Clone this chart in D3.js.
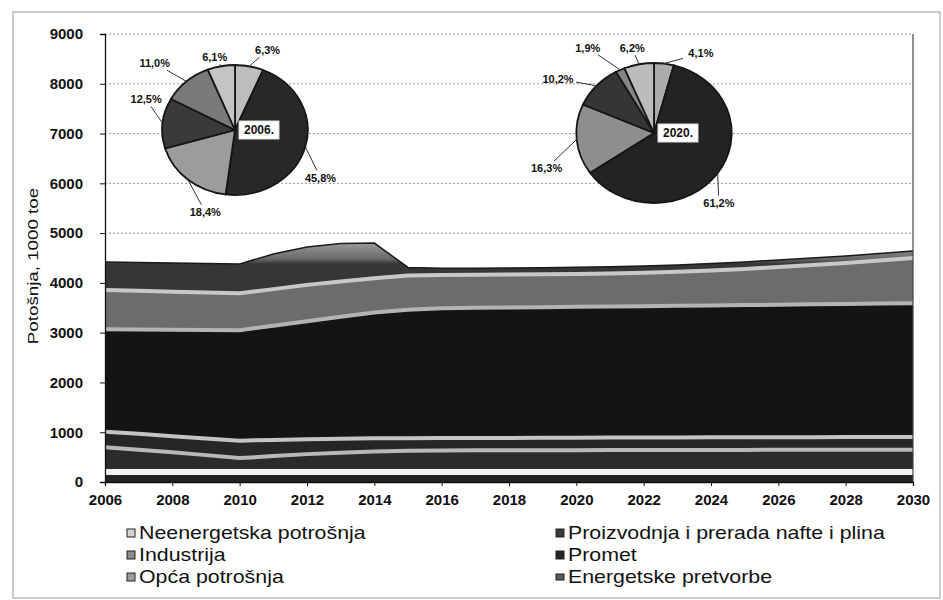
<!DOCTYPE html>
<html>
<head>
<meta charset="utf-8">
<script src="https://cdn.jsdelivr.net/npm/d3@7"></script>
<style>
  body { margin: 0; background: #fff; }
  text { font-family: "Liberation Sans", Arial, sans-serif; }
</style>
</head>
<body>
<div id="chart"></div>
<script>
// categories
const years = [2006, 2007, 2008, 2009, 2010, 2011, 2012, 2013, 2014, 2015, 2016, 2017, 2018,
  2019, 2020, 2021, 2022, 2023, 2024, 2025, 2026, 2027, 2028, 2029, 2030];
const seriesNames = ["Neenergetska potrošnja", "Proizvodnja i prerada nafte i plina", "Industrija",
  "Promet", "Opća potrošnja", "Energetske pretvorbe"];

// series values, 1000 toe
const neenergetska = [200, 200, 200, 200, 200, 200, 200, 200, 200, 200, 200, 200, 200,
  200, 200, 200, 200, 200, 200, 200, 200, 200, 200, 200, 200];
const proizvodnja = [500, 450, 400, 340, 280, 320, 360, 390, 415, 430, 435, 438, 440,
  440, 440, 441, 442, 443, 444, 445, 446, 447, 448, 449, 450];
const industrija = [310, 320, 320, 335, 350, 325, 300, 280, 263, 250, 247, 246, 246,
  248, 250, 251, 252, 253, 254, 254, 254, 254, 254, 254, 255];
const promet = [2057, 2093, 2138, 2179, 2220, 2295, 2370, 2450, 2527, 2580, 2608, 2616, 2619,
  2622, 2630, 2633, 2636, 2644, 2647, 2656, 2660, 2669, 2673, 2682, 2685];
const opca = [790, 777, 762, 751, 740, 735, 730, 710, 690, 690, 670, 665, 665,
  665, 660, 665, 675, 685, 705, 725, 760, 790, 825, 865, 910];
const energetske = [563, 570, 580, 585, 590, 705, 760, 760, 705, 160, 135, 130, 130,
  130, 135, 135, 135, 135, 140, 140, 140, 140, 140, 140, 140];

const yTicks = [0, 1000, 2000, 3000, 4000, 5000, 6000, 7000, 8000, 9000];
const xTickYears = [2006, 2008, 2010, 2012, 2014, 2016, 2018, 2020, 2022, 2024, 2026, 2028, 2030];

// pies (slice order clockwise from 12 o'clock)
const pieYears = ["2006.", "2020."];
const pie2006 = [6.3, 45.8, 18.4, 12.5, 11.0, 6.1];
const pie2020 = [4.1, 61.2, 16.3, 10.2, 1.9, 6.2];

// styles
const areaFill = ["#232323", "#2b2b2b", "#262626", "#141414", "#6c6c6c", "url(#topGrad)"];
const bandLine = ["#f2f2f2", "#b8b8b8", "#c4c4c4", "#b4b4b4", "#c8c8c8"];
const bandWidth = [6, 4, 4, 4, 4];
const legendFill = ["#d4d4d4", "#3a3a3a", "#8a8a8a", "#262626", "#9a9a9a", "#555"];
const pieFill2006 = ["#bdbdbd", "#282828", "#9c9c9c", "#3a3a3a", "#7a7a7a", "#c4c4c4"];
const pieFill2020 = ["#ababab", "#232323", "#8e8e8e", "#353535", "#868686", "#bcbcbc"];
// label placement: [angle deg, distance] in unscaled pie units
const pieLab2006 = [[20, 85], [122, 90], [198, 86], [291, 85], [313, 98], [346, 75]];
const pieLab2020 = [[28, 90], [140, 91], [250, 103], [302, 102], [325, 104], [347, 87]];

const W = 943, H = 600;
const svg = d3.select("#chart").append("svg")
  .attr("width", W).attr("height", H);

const defs = svg.append("defs");
const grad = defs.append("linearGradient").attr("id", "topGrad")
  .attr("gradientUnits", "userSpaceOnUse")
  .attr("x1", 0).attr("x2", 0).attr("y1", 243).attr("y2", 264);
grad.append("stop").attr("offset", 0).attr("stop-color", "#9a9a9a");
grad.append("stop").attr("offset", 0.75).attr("stop-color", "#6a6a6a");
grad.append("stop").attr("offset", 1).attr("stop-color", "#363636");

// outer frame
svg.append("rect").attr("x", 13).attr("y", 12).attr("width", 927).attr("height", 586)
  .attr("fill", "none").attr("stroke", "#9a9a9a").attr("stroke-width", 1);

const x = d3.scaleLinear().domain([2006, 2030]).range([105, 913]);
const y = d3.scaleLinear().domain([0, 9000]).range([482, 34]);

// gridlines
svg.append("g").selectAll("line").data(yTicks.slice(1)).join("line")
  .attr("x1", 105).attr("x2", 913)
  .attr("y1", d => y(d)).attr("y2", d => y(d))
  .attr("stroke", "#999").attr("stroke-dasharray", "2,2").attr("stroke-width", 1);

// stacked area
const rows = years.map((yr, i) => ({
  year: yr,
  s0: neenergetska[i], s1: proizvodnja[i], s2: industrija[i],
  s3: promet[i], s4: opca[i], s5: energetske[i]
}));
const keys = ["s0", "s1", "s2", "s3", "s4", "s5"];
const stacked = d3.stack().keys(keys)(rows);

const area = d3.area()
  .x(d => x(d.data.year))
  .y0(d => y(d[0]))
  .y1(d => y(d[1]));

svg.append("g").selectAll("path").data(stacked).join("path")
  .attr("d", area)
  .attr("fill", (d, i) => areaFill[i]);

const topLine = d3.line().x(d => x(d.data.year)).y(d => y(d[1]));
svg.append("g").selectAll("path").data(stacked.slice(0, 5)).join("path")
  .attr("d", topLine)
  .attr("fill", "none")
  .attr("stroke", (d, i) => bandLine[i])
  .attr("stroke-width", (d, i) => bandWidth[i]);
svg.append("path").datum(stacked[5]).attr("d", topLine)
  .attr("fill", "none").attr("stroke", "#1a1a1a").attr("stroke-width", 1.5);

// plot right border
svg.append("line").attr("x1", 913).attr("x2", 913).attr("y1", y(9000)).attr("y2", y(0))
  .attr("stroke", "#444").attr("stroke-width", 1.2);

// axes
const yAxis = svg.append("g").attr("transform", "translate(105,0)")
  .call(d3.axisLeft(y).tickValues(yTicks).tickFormat(d3.format("d")).tickSize(5).tickPadding(17));
const xAxis = svg.append("g").attr("transform", `translate(0,${y(0)})`)
  .call(d3.axisBottom(x).tickValues(xTickYears).tickFormat(d3.format("d")).tickSize(4).tickPadding(8));
[yAxis, xAxis].forEach(g => {
  g.select(".domain").attr("stroke", "#111").attr("stroke-width", 1.3);
  g.selectAll(".tick line").attr("stroke", "#111");
  g.selectAll(".tick text").attr("fill", "#111")
    .style("font-family", "'Liberation Sans', Arial, sans-serif")
    .style("font-size", "15px").style("font-weight", "bold");
});

svg.append("text")
  .attr("transform", "translate(38,266) rotate(-90) scale(1.25,1)")
  .attr("text-anchor", "middle")
  .style("font-size", "15px").attr("fill", "#111")
  .text("Potošnja, 1000 toe");

// pies
function drawPie(cx, cy, r, sx, values, fills, labs, yearLabel) {
  const g = svg.append("g").attr("transform", `translate(${cx},${cy})`);
  const gs = g.append("g").attr("transform", `scale(${sx},1)`);
  const arcs = d3.pie().sort(null).value(d => d)(values);
  const arc = d3.arc().innerRadius(0).outerRadius(r);
  gs.selectAll("path").data(arcs).join("path")
    .attr("d", arc)
    .attr("fill", (d, i) => fills[i])
    .attr("stroke", "#151515").attr("stroke-width", 1.8)
    .attr("vector-effect", "non-scaling-stroke");

  arcs.forEach((a, i) => {
    const mid = (a.startAngle + a.endAngle) / 2;
    const ex = Math.sin(mid) * r * sx, ey = -Math.cos(mid) * r;
    const la = labs[i][0] * Math.PI / 180, ld = labs[i][1];
    const lx = Math.sin(la) * ld * sx, ly = -Math.cos(la) * ld;
    const txt = d3.format(".1f")(values[i]).replace(".", ",") + "%";
    // leader line clipped to label box
    const dx = ex - lx, dy = ey - ly, hw = 18, hh = 7;
    const t = Math.min(dx ? hw / Math.abs(dx) : Infinity, dy ? hh / Math.abs(dy) : Infinity);
    if (t < 1) {
      g.append("line")
        .attr("x1", lx + dx * t).attr("y1", ly + dy * t)
        .attr("x2", ex).attr("y2", ey)
        .attr("stroke", "#333").attr("stroke-width", 1);
    }
    g.append("text").attr("x", lx).attr("y", ly).attr("dy", "0.35em")
      .attr("text-anchor", "middle")
      .style("font-size", "11px").style("font-weight", "bold").attr("fill", "#111")
      .text(txt);
  });

  const box = g.append("g").attr("transform", "translate(24,0)");
  box.append("rect").attr("x", -20).attr("y", -9).attr("width", 40).attr("height", 18)
    .attr("fill", "#fff").attr("stroke", "#ddd");
  box.append("text").attr("text-anchor", "middle").attr("dy", "0.36em")
    .style("font-size", "12px").style("font-weight", "bold").attr("fill", "#111")
    .text(yearLabel);
}
drawPie(235, 130, 65, 1.12, pie2006, pieFill2006, pieLab2006, pieYears[0]);
drawPie(654, 133, 70, 1.11, pie2020, pieFill2020, pieLab2020, pieYears[1]);

// legend
const leg = svg.append("g");
seriesNames.forEach((name, i) => {
  const col = i % 2, row = Math.floor(i / 2);
  const gx = col === 0 ? 127 : 556, gy = 533 + row * 22;
  const lg = leg.append("g").attr("transform", `translate(${gx},${gy})`);
  lg.append("rect").attr("x", 0).attr("y", i === 5 ? -3 : -4)
    .attr("width", 8).attr("height", i === 5 ? 6 : 8)
    .attr("fill", legendFill[i]).attr("stroke", "#222").attr("stroke-width", 1);
  lg.append("text").attr("transform", "translate(12,0) scale(1.22,1)").attr("dy", "0.35em")
    .style("font-size", "17.5px").attr("fill", "#111")
    .text(name);
});
</script>
</body>
</html>
